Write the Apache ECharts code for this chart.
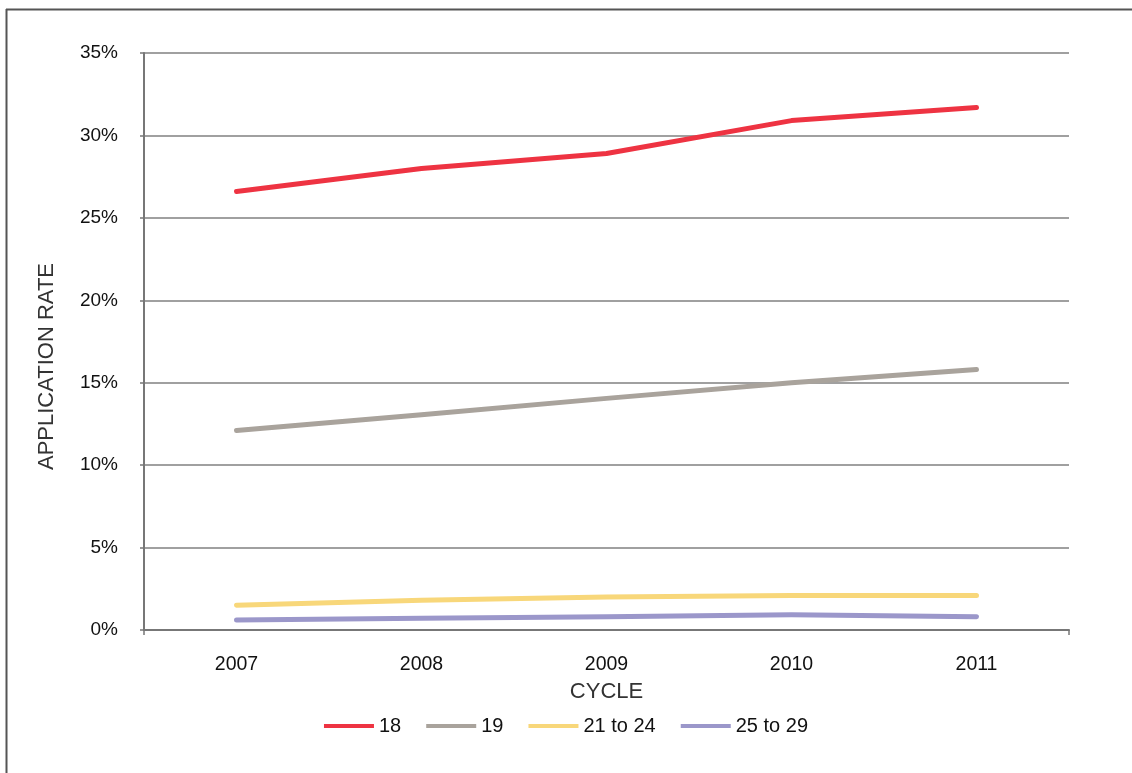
<!DOCTYPE html>
<html>
<head>
<meta charset="utf-8">
<script src="https://cdn.jsdelivr.net/npm/echarts@6/dist/echarts.min.js"></script>
<style>
html,body{margin:0;padding:0;background:#fff;}
#c{width:1132px;height:773px;}
</style>
</head>
<body>
<div id="c"></div>
<script>
const categories = ['2007', '2008', '2009', '2010', '2011'];
const age18 = [26.6, 28.0, 28.9, 30.9, 31.7];
const age19 = [12.1, 13.05, 14.05, 15.0, 15.8];
const age21to24 = [1.5, 1.8, 2.0, 2.1, 2.1];
const age25to29 = [0.6, 0.72, 0.8, 0.92, 0.8];
const seriesNames = ['18', '19', '21 to 24', '25 to 29'];
const seriesColors = ['#EE3342', '#A9A39C', '#F8D77A', '#9B97CA'];

const chart = echarts.init(document.getElementById('c'), null, {renderer: 'canvas'});
const font = 'Liberation Sans, Arial, Helvetica, sans-serif';
const dataSets = [age18, age19, age21to24, age25to29];

chart.setOption({
  animation: false,
  backgroundColor: '#fff',
  textStyle: {fontFamily: font},
  graphic: [
    {type: 'line', shape: {x1: 6, y1: 9.5, x2: 1132, y2: 9.5}, style: {stroke: '#555', lineWidth: 2}},
    {type: 'line', shape: {x1: 6.5, y1: 9, x2: 6.5, y2: 773}, style: {stroke: '#555', lineWidth: 2}}
  ],
  grid: {left: 144, right: 63, top: 53, bottom: 143, containLabel: false},
  legend: {
    bottom: 32,
    left: 'center',
    itemWidth: 50,
    itemHeight: 4,
    itemGap: 25,
    icon: 'rect',
    textStyle: {fontFamily: font, fontSize: 20, color: '#111'},
    data: seriesNames.map((n, i) => ({name: n, itemStyle: {color: seriesColors[i]}}))
  },
  xAxis: [{
    type: 'category',
    data: categories,
    boundaryGap: true,
    name: 'CYCLE',
    nameLocation: 'middle',
    nameGap: 51,
    nameTextStyle: {fontFamily: font, fontSize: 22, color: '#333'},
    axisLine: {lineStyle: {color: '#777', width: 2}},
    axisTick: {alignWithLabel: true, length: 5, lineStyle: {color: '#777', width: 1.5}},
    axisLabel: {fontFamily: font, fontSize: 19.5, color: '#111', margin: 25},
    splitLine: {show: false}
  }, {
    type: 'category',
    data: ['', ''],
    boundaryGap: false,
    position: 'bottom',
    axisLine: {show: false},
    axisTick: {length: 5, lineStyle: {color: '#777', width: 1.5}},
    axisLabel: {show: false},
    splitLine: {show: false}
  }],
  yAxis: {
    type: 'value',
    min: 0,
    max: 35,
    interval: 5,
    name: 'APPLICATION RATE',
    nameLocation: 'middle',
    nameGap: 86,
    nameRotate: 90,
    nameTextStyle: {fontFamily: font, fontSize: 22, color: '#333', padding: [0, 50, 0, 0]},
    axisLine: {show: true, lineStyle: {color: '#777', width: 2}},
    axisTick: {show: true, length: 4, lineStyle: {color: '#777', width: 1.5}},
    axisLabel: {fontFamily: font, fontSize: 19, color: '#111', margin: 26, formatter: v => v + '%'},
    splitLine: {lineStyle: {color: '#808080', width: 1.5}}
  },
  series: dataSets.map((d, i) => ({
    name: seriesNames[i],
    type: 'line',
    data: d,
    showSymbol: false,
    symbol: 'none',
    color: seriesColors[i],
    lineStyle: {color: seriesColors[i], width: 5, cap: 'round', join: 'round'},
    z: 10 - i
  }))
});
</script>
</body>
</html>
